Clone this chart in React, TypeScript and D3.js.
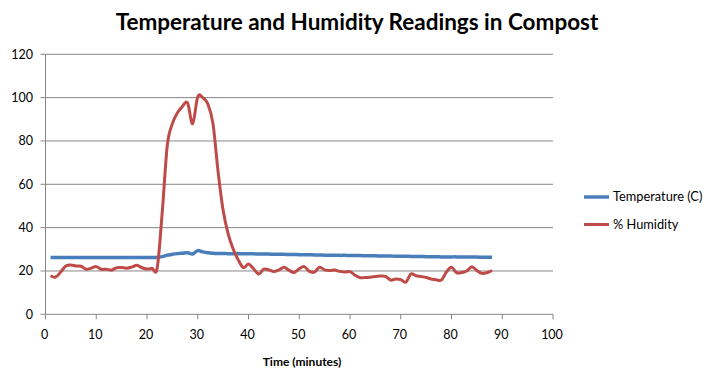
import React from "react";
import * as d3 from "d3";

const minutes: number[] = Array.from({ length: 88 }, (_, i) => i + 1);

const temperature: number[] = [
  26.2, 26.2, 26.2, 26.2, 26.2, 26.2, 26.2, 26.2, 26.2, 26.2,
  26.2, 26.2, 26.2, 26.2, 26.2, 26.2, 26.2, 26.2, 26.2, 26.2,
  26.2, 26.2, 26.6, 27.3, 27.7, 28.0, 28.2, 28.4, 27.8, 29.4,
  28.8, 28.4, 28.2, 28.1, 28.1, 28.0, 28.0, 28.0, 27.9, 27.9,
  27.9, 27.8, 27.8, 27.8, 27.7, 27.7, 27.7, 27.6, 27.6, 27.5,
  27.5, 27.5, 27.4, 27.4, 27.3, 27.3, 27.3, 27.2, 27.2, 27.1,
  27.1, 27.1, 27.0, 27.0, 27.0, 26.9, 26.9, 26.9, 26.8, 26.8,
  26.8, 26.7, 26.7, 26.7, 26.6, 26.6, 26.6, 26.5, 26.5, 26.5,
  26.5, 26.4, 26.4, 26.4, 26.4, 26.3, 26.3, 26.3,
];

const humidity: number[] = [
  17.8, 17.2, 19.5, 22.3, 22.8, 22.3, 22.2, 20.8, 21.3, 22.0,
  20.8, 20.8, 20.4, 21.5, 21.6, 21.3, 21.8, 22.6, 21.5, 20.9,
  21.2, 21.3, 47.0, 78.0, 88.0, 93.0, 96.0, 97.5, 88.0, 100.4,
  100.0, 97.0, 88.0, 66.0, 48.0, 37.0, 30.0, 25.0, 21.5, 23.2,
  21.0, 18.6, 20.8, 20.5, 19.7, 20.5, 21.7, 20.3, 19.3, 21.0,
  22.0, 19.8, 19.5, 21.7, 20.5, 20.2, 20.4, 19.8, 19.5, 19.7,
  18.0, 16.9, 17.0, 17.1, 17.4, 17.7, 17.5, 15.8, 16.3, 16.0,
  14.8, 18.6, 17.8, 17.4, 17.0, 16.3, 15.9, 15.8, 19.5, 21.7,
  19.2, 19.3, 20.0, 22.0, 20.2, 18.9, 19.2, 20.2,
];

const xTicks: number[] = [0, 10, 20, 30, 40, 50, 60, 70, 80, 90, 100];
const yTicks: number[] = [0, 20, 40, 60, 80, 100, 120];

const seriesNames: string[] = ["Temperature (C)", "% Humidity"];
const seriesColors: string[] = ["#4A7EBB", "#BE4B48"];

const title = "Temperature and Humidity Readings in Compost";
const xTitle = "Time (minutes)";

export default function App() {
  const W = 716;
  const H = 383;
  const x = d3.scaleLinear().domain([0, 100]).range([45.5, 553]);
  const y = d3.scaleLinear().domain([0, 120]).range([314.3, 54.3]);
  const line = d3
    .line<[number, number]>()
    .x((d) => x(d[0]))
    .y((d) => y(d[1]))
    .curve(d3.curveCardinal.tension(0));
  const tempPath = line(minutes.map((m, i) => [m, temperature[i]]));
  const humPath = line(minutes.map((m, i) => [m, humidity[i]]));
  const font = "Lato, 'Open Sans', sans-serif";
  const axisColor = "#868686";
  return (
    <svg
      width={W}
      height={H}
      style={{ position: "absolute", left: 0, top: 0, background: "#fff" }}
      fontFamily={font}
    >
      <rect x={0} y={0} width={W} height={H} fill="#fff" />
      <text x={357} y={30} textAnchor="middle" fontSize={22.5} fontWeight="bold" fill="#000">
        {title}
      </text>
      {yTicks.map((t) => (
        <g key={"y" + t}>
          {t > 0 && (
            <line x1={x(0)} x2={x(100)} y1={y(t)} y2={y(t)} stroke={axisColor} strokeWidth={1} />
          )}
          <line x1={x(0) - 5} x2={x(0)} y1={y(t)} y2={y(t)} stroke={axisColor} strokeWidth={1} />
          <text x={33} y={y(t)} dy="0.35em" textAnchor="end" fontSize={12.5} fill="#000">
            {t}
          </text>
        </g>
      ))}
      <line x1={x(0)} x2={x(0)} y1={y(120)} y2={y(0)} stroke={axisColor} strokeWidth={1} />
      <line x1={x(0)} x2={x(100)} y1={y(0)} y2={y(0)} stroke={axisColor} strokeWidth={1} />
      {xTicks.map((t) => (
        <g key={"x" + t}>
          <line x1={x(t)} x2={x(t)} y1={y(0)} y2={y(0) + 5} stroke={axisColor} strokeWidth={1} />
          <text x={x(t) - 1} y={335} dy="0.35em" textAnchor="middle" fontSize={12.5} fill="#000">
            {t}
          </text>
        </g>
      ))}
      <text x={302} y={362} dy="0.35em" textAnchor="middle" fontSize={12} fontWeight="bold" fill="#000">
        {xTitle}
      </text>
      <path d={tempPath || ""} fill="none" stroke={seriesColors[0]} strokeWidth={3.5} strokeLinejoin="round" />
      <path d={humPath || ""} fill="none" stroke={seriesColors[1]} strokeWidth={3} strokeLinejoin="round" />
      {seriesNames.map((n, i) => (
        <g key={n} transform={`translate(0, ${197 + i * 27.5})`}>
          <line x1={584} x2={609} y1={0} y2={0} stroke={seriesColors[i]} strokeWidth={i === 0 ? 3.5 : 3} />
          <text x={613} y={0} dy="0.35em" fontSize={12.8} fill="#000">
            {n}
          </text>
        </g>
      ))}
    </svg>
  );
}
